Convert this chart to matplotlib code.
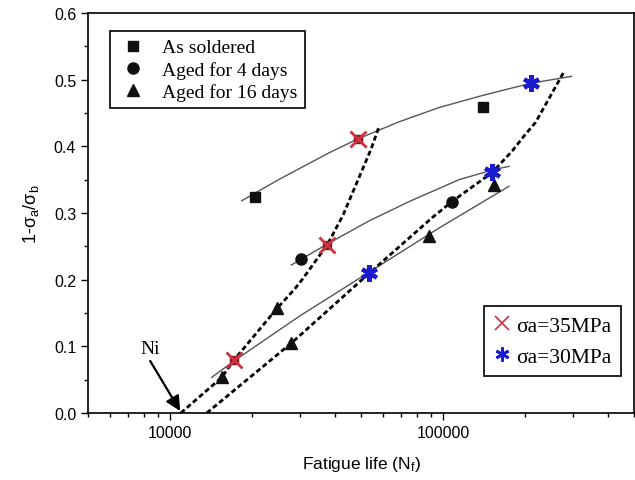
import matplotlib
matplotlib.use("Agg")
import matplotlib.pyplot as plt
from matplotlib.lines import Line2D
from matplotlib.font_manager import FontProperties
from matplotlib.ticker import LogLocator, NullFormatter, FixedLocator, MultipleLocator

plt.rcParams['font.family'] = ['Liberation Sans', 'DejaVu Sans']
plt.rcParams['mathtext.default'] = 'regular'

# ---- data ----
# markers
soldered_N = [20400, 140000]
soldered_y = [0.3245, 0.4595]
aged4_N = [30200, 107600]
aged4_y = [0.231, 0.316]
aged16_N = [15460, 24640, 27820, 89000, 153600]
aged16_y = [0.0535, 0.157, 0.105, 0.265, 0.3425]
s35_N = [48600, 37640, 17130]
s35_y = [0.411, 0.2525, 0.0795]
s30_N = [209000, 151400, 53700]
s30_y = [0.4945, 0.361, 0.210]

# solid fit curves
fit_soldered_N = [18270, 25000, 38370, 48620, 69040, 96600, 139000, 209000, 295200]
fit_soldered_y = [0.3183, 0.3502, 0.3907, 0.411, 0.4369, 0.4582, 0.4762, 0.4945, 0.505]
fit_aged4_N = [27800, 37640, 53700, 75110, 114300, 151400, 174100]
fit_aged4_y = [0.222, 0.2535, 0.2885, 0.3172, 0.350, 0.3645, 0.370]
fit_aged16_N = [14200, 17130, 29810, 53700, 96600, 174100]
fit_aged16_y = [0.0535, 0.078, 0.1455, 0.2115, 0.2775, 0.340]

# dashed iso-stress curves
dash35_N = [10940, 15460, 17130, 24640, 28580, 30550, 37640, 42890, 54450, 58390]
dash35_y = [0.0, 0.0535, 0.0795, 0.157, 0.186, 0.201, 0.2525, 0.296, 0.396, 0.431]
dash30_N = [13610, 27820, 53700, 91430, 107600, 151400, 179000, 197800, 217800, 243600, 276600]
dash30_y = [0.0, 0.105, 0.210, 0.2935, 0.317, 0.361, 0.393, 0.4155, 0.4358, 0.471, 0.5115]

ni_tail = (8450, 0.078)
ni_head = (10880, 0.003)

legend1_labels = ['As soldered', 'Aged for 4 days', 'Aged for 16 days']
legend2_labels = ['σa=35MPa', 'σa=30MPa']

# ---- figure ----
fig = plt.figure(figsize=(6.35, 4.81), dpi=100)
ax = fig.add_axes([88/635, 1-414/481, (634-88)/635, (414-14)/481])

gray = '#555555'
red = '#d23040'
blue = '#1a1ad0'
serif_fp = FontProperties(family='Liberation Serif', size=14)

for N, y in [(fit_soldered_N, fit_soldered_y), (fit_aged4_N, fit_aged4_y), (fit_aged16_N, fit_aged16_y)]:
    ax.plot(N, y, color=gray, lw=1.0, zorder=2)
for N, y in [(dash35_N, dash35_y), (dash30_N, dash30_y)]:
    ax.plot(N, y, color='black', lw=2.0, linestyle=(0, (1.8, 1.1)), zorder=3)

ax.plot(soldered_N, soldered_y, 's', color='#111111', ms=7, ls='none', zorder=4)
ax.plot(aged4_N, aged4_y, 'o', color='#111111', ms=8, ls='none', zorder=4)
ax.plot(aged16_N, aged16_y, '^', color='#111111', ms=8, ls='none', zorder=4)
ax.plot(s35_N, s35_y, 's', color='#7a1a22', ms=6, ls='none', zorder=5)
ax.plot(s35_N, s35_y, 'x', color=red, ms=11, mew=2.0, ls='none', zorder=6)
ax.plot(s30_N, s30_y, marker=(6, 2, 0), color=blue, ms=12, mew=3.0, ls='none', zorder=6)

ax.annotate('', xy=ni_head, xytext=ni_tail,
            arrowprops=dict(arrowstyle='-|>', color='black', lw=1.6, mutation_scale=22,
                            shrinkA=0, shrinkB=0), zorder=7)
ax.text(ni_tail[0], ni_tail[1] + 0.006, 'Ni', fontproperties=serif_fp,
        ha='center', va='bottom')

ax.set_xscale('log')
ax.set_xlim(5000, 500000)
ax.set_ylim(0.0, 0.6)
ax.xaxis.set_major_locator(FixedLocator([10000, 100000]))
ax.set_xticklabels(['10000', '100000'])
ax.xaxis.set_minor_locator(LogLocator(base=10, subs=[2, 3, 4, 5, 6, 7, 8, 9]))
ax.xaxis.set_minor_formatter(NullFormatter())
ax.yaxis.set_major_locator(MultipleLocator(0.1))
ax.yaxis.set_minor_locator(MultipleLocator(0.05))
ax.set_yticklabels([f'{v:.1f}' for v in ax.get_yticks()])

ax.tick_params(which='major', direction='out', length=5, width=1.0, labelsize=11.5)
ax.tick_params(which='minor', direction='out', length=3, width=1.0)
for s in ax.spines.values():
    s.set_linewidth(1.2)

ax.set_xlabel('Fatigue life (N$_f$)', fontsize=12.5, labelpad=10)
ax.set_ylabel('1-σ$_a$/σ$_b$', fontsize=13, labelpad=9)

h1 = [Line2D([], [], marker=m, color='#111111', ls='none', ms=ms) for m, ms in [('s', 7), ('o', 8), ('^', 8)]]
leg1 = ax.legend(h1, legend1_labels, loc='upper left', bbox_to_anchor=(0.04, 0.955),
                 prop=serif_fp, frameon=True, fancybox=False,
                 edgecolor='black', framealpha=1, handlelength=1.6, handletextpad=0.7,
                 borderpad=0.4, labelspacing=0.22, borderaxespad=0)
leg1.get_frame().set_linewidth(1.2)
ax.add_artist(leg1)

h2 = [Line2D([], [], marker='x', color=red, ls='none', ms=10, mew=1.2),
      Line2D([], [], marker=(6, 2, 0), color=blue, ls='none', ms=10, mew=2.0)]
leg2 = ax.legend(h2, legend2_labels, loc='upper left', bbox_to_anchor=((484-88)/546, (414-307)/400),
                 prop=FontProperties(family='Liberation Serif', size=15.5), frameon=True, fancybox=False,
                 edgecolor='black', framealpha=1, handlelength=0.8, handletextpad=0.25,
                 borderpad=0.45, labelspacing=0.5, borderaxespad=0)
leg2.get_frame().set_linewidth(1.2)

fig.savefig('out.png', dpi=100)
